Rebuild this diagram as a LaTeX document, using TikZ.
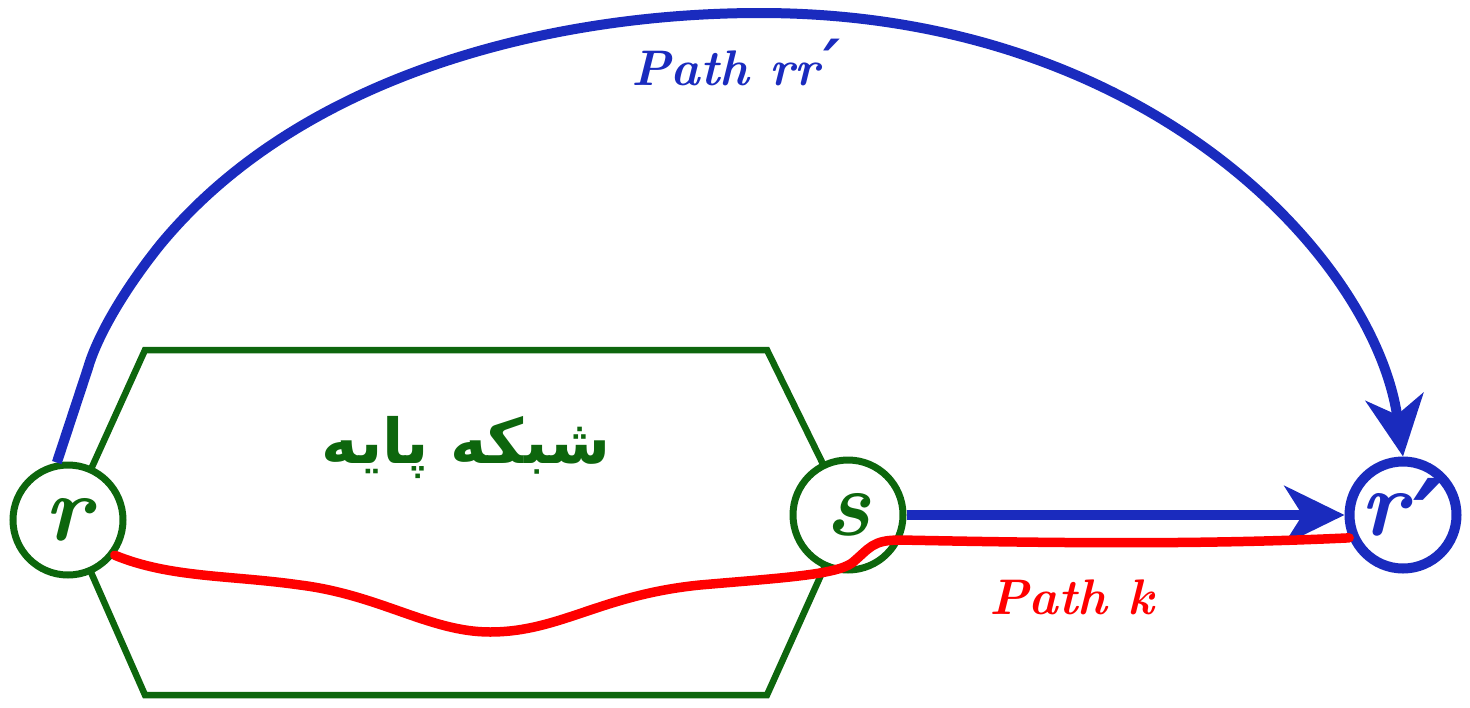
\documentclass[tikz,border=0pt]{standalone}
\usepackage{fontspec}
\usetikzlibrary{arrows.meta}
\TeXXeTstate=1
\newfontfamily\arabicfont[Script=Arabic]{DejaVu Sans}
\newfontfamily\primefont{DejaVu Serif}
% prime mark, lowered by #1
\newcommand{\prm}[1]{\raisebox{#1}{\scalebox{1.3}{\primefont\bfseries\char"2032}}}
\definecolor{netgreen}{RGB}{13,102,13}
\definecolor{pathblue}{RGB}{26,43,190}
\definecolor{pathred}{RGB}{255,0,0}
\tikzset{
  station/.style={circle, draw=netgreen, line width=7pt, fill=white,
    minimum size=110pt, inner sep=0pt, text=netgreen,
    text height=41pt, text depth=0pt,
    font=\fontsize{93}{93}\selectfont\bfseries\itshape},
  target/.style={station, draw=pathblue, line width=10pt, minimum size=107pt, text=pathblue},
  network/.style={draw=netgreen, line width=6.5pt, line join=miter},
  bluepath/.style={draw=pathblue, line width=10pt,
    -{Stealth[length=60pt,width=58pt,inset=18pt]}},
  redpath/.style={draw=pathred, line width=9.5pt, line cap=round},
  pathlabel/.style={font=\fontsize{50}{50}\selectfont\bfseries\itshape}
}
\begin{document}
\begin{tikzpicture}[x=1pt,y=-1pt]
  \useasboundingbox (0,0) rectangle (1470,707);

  % core network outline
  \coordinate (hl) at (68,520);
  \coordinate (hr) at (848,515);
  \draw[network] (hl) -- (145,350) -- (767,350) -- (hr) -- (767,695) -- (145,695) -- cycle;
  \node[text=netgreen, font=\arabicfont\bfseries\fontsize{62}{62}\selectfont] (core) at (466,448)
    {\beginR شبکه پایه\endR};

  % endpoints
  \node[station] (r) at (68,520) {r};
  \node[station] (s) at (848,515) {s};
  \node[target] (rp) at (1403,515) {r\kern6pt\prm{-0.33em}};

  % direct path r -> r'
  \coordinate (a1) at (88,368);
  \coordinate (a2) at (160,245);
  \coordinate (a3) at (760,13);
  \draw[bluepath] (r.101) -- (a1) .. controls (96,340) and (120,295) .. (a2)
    .. controls (300,75) and (550,13) .. (a3)
    .. controls (1150,13) and (1375,260) .. (rp.north);
  \node[pathlabel, text=pathblue] (lrr) at (736,63) {Path rr\kern4pt\prm{-0.02em}};

  % path from s to r'
  \draw[bluepath] (s) -- (rp);

  % path k through the core network
  \draw[redpath] (r.-37) .. controls (170,578) and (230,575) .. (300,585)
    .. controls (380,595) and (430,632) .. (490,632)
    .. controls (560,632) and (600,595) .. (700,585)
    .. controls (780,578) and (835,575) .. (852,563)
    .. controls (870,548) and (872,540) .. (900,540)
    .. controls (1050,543) and (1200,545) .. (rp.203);
  \node[pathlabel, text=pathred] (lk) at (1072,597) {Path k};
\end{tikzpicture}
\end{document}
